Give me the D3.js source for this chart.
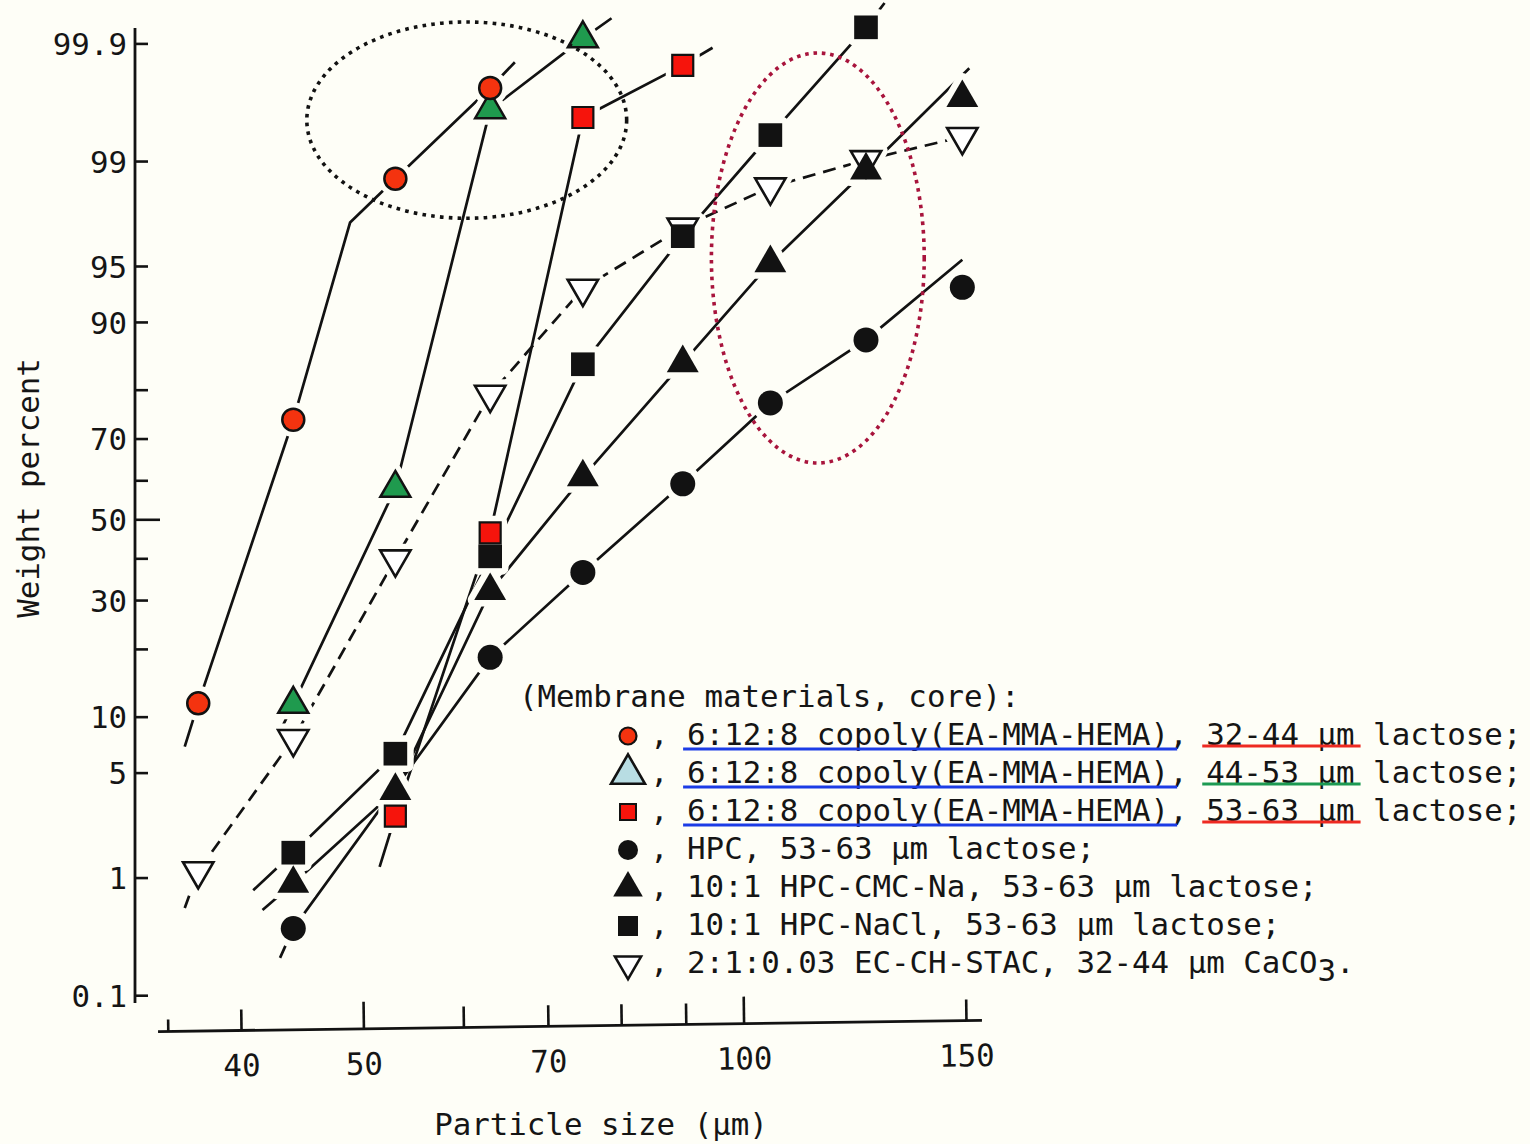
<!DOCTYPE html>
<html><head><meta charset="utf-8">
<script src="https://cdn.jsdelivr.net/npm/d3@7"></script>
<style>
html,body{margin:0;padding:0;background:#fefef7;}
svg{display:block;}
text{font-family:'DejaVu Sans Mono',monospace;font-size:30.8px;fill:#151515;}
</style></head><body>
<svg id="chart" width="1530" height="1144"></svg>
<script>
// ---------------- DATA (particle size in µm, cumulative weight percent) ----------------
// 6:12:8 copoly(EA-MMA-HEMA), 32-44 µm lactose  (red circles)
const copolyA_size = [37, 44, 53, 63];
const copolyA_pct  = [11.6, 74.1, 98.65, 99.745];
const copolyA_fitSize = [36.1, 37, 44, 48.8, 53, 63, 65.9];
const copolyA_fitPct  = [7.0, 11.6, 74.1, 97.3, 98.65, 99.745, 99.85];

// 6:12:8 copoly(EA-MMA-HEMA), 44-53 µm lactose  (green triangles)
const copolyB_size = [44, 53, 63, 74.6];
const copolyB_pct  = [11.5, 58.0, 99.61, 99.91];
const copolyB_fitSize = [42.9, 44, 53, 63, 74.6, 78.6];
const copolyB_fitPct  = [8.3, 11.5, 58.0, 99.61, 99.91, 99.943];

// 6:12:8 copoly(EA-MMA-HEMA), 53-63 µm lactose  (red squares)
const copolyC_size = [53, 63, 74.6, 89.5];
const copolyC_pct  = [2.7, 46.5, 99.546, 99.84];
const copolyC_fitSize = [51.5, 53, 63, 74.6, 89.5, 94.5];
const copolyC_fitPct  = [1.2, 2.7, 46.5, 99.546, 99.84, 99.89];

// HPC, 53-63 µm lactose  (black circles)
const hpc_size = [44, 63, 74.6, 89.5, 105, 125, 149];
const hpc_pct  = [0.394, 18.5, 36.5, 59.1, 77.5, 87.8, 93.4];
const hpc_fitSize = [42.95, 44, 63, 74.6, 89.5, 105, 125, 149];
const hpc_fitPct  = [0.22, 0.394, 18.5, 36.5, 59.1, 77.5, 87.8, 95.4];

// 10:1 HPC-CMC-Na, 53-63 µm lactose  (black triangles)
const cmc_size = [44, 53, 63, 74.6, 89.5, 105, 125, 149];
const cmc_pct  = [0.9, 3.9, 32.1, 60.8, 84.5, 95.2, 98.83, 99.69];
const cmc_fitSize = [41.6, 44, 53, 63, 74.6, 89.5, 105, 125, 150.9];
const cmc_fitPct  = [0.56, 0.9, 3.9, 32.1, 60.8, 84.5, 95.2, 98.83, 99.83];

// 10:1 HPC-NaCl, 53-63 µm lactose  (black squares)
const nacl_size = [44, 53, 63, 74.6, 89.5, 105, 125];
const nacl_pct  = [1.52, 6.4, 40.5, 84.3, 96.7, 99.37, 99.93];
const nacl_fitSize = [40.9, 44, 53, 63, 74.6, 89.5, 105, 125, 129.3];
const nacl_fitPct  = [0.80, 1.52, 6.4, 40.5, 84.3, 96.7, 99.37, 99.93, 99.96];

// 2:1:0.03 EC-CH-STAC, 32-44 µm CaCO3  (open inverted triangles, dashed)
const stac_size = [37, 44, 53, 63, 74.6, 89.5, 105, 125, 149];
const stac_pct  = [1.12, 7.7, 39.8, 79.1, 93.3, 97.1, 98.45, 99.02, 99.35];
const stac_fitSize = [36.1, 37, 44, 53, 63, 74.6, 89.5, 105, 125, 149, 152.3];
const stac_fitPct  = [0.58, 1.12, 7.7, 39.8, 79.1, 93.3, 97.1, 98.45, 99.02, 99.35, 99.506];

// axis ticks
const xTicks = [35, 40, 50, 60, 70, 80, 90, 100, 150];
const xTickLabels = ["", "40", "50", "", "70", "", "", "100", "150"];
const yTicks = [0.1, 1, 5, 10, 20, 30, 40, 50, 60, 70, 80, 90, 95, 99, 99.9];
const yTickLabels = ["0.1", "1", "5", "10", "", "30", "", "50", "", "70", "", "90", "95", "99", "99.9"];

// annotation rings (bounding boxes in data units)
const blackRingSize = [45.1, 80.8];
const blackRingPct  = [97.47, 99.938];
const redRingSize = [94.3, 139];
const redRingPct  = [64.27, 99.877];

// legend
const legendTitle = "(Membrane materials, core):";
const legendLabels = [
  "6:12:8 copoly(EA-MMA-HEMA), 32-44 µm lactose;",
  "6:12:8 copoly(EA-MMA-HEMA), 44-53 µm lactose;",
  "6:12:8 copoly(EA-MMA-HEMA), 53-63 µm lactose;",
  "HPC, 53-63 µm lactose;",
  "10:1 HPC-CMC-Na, 53-63 µm lactose;",
  "10:1 HPC-NaCl, 53-63 µm lactose;",
  "2:1:0.03 EC-CH-STAC, 32-44 µm CaCO"
];
const xTitle = "Particle size (µm)";
const yTitle = "Weight percent";

// ---------------- helpers ----------------
function probit(p){
  const a=[-3.969683028665376e+01,2.209460984245205e+02,-2.759285104469687e+02,1.383577518672690e+02,-3.066479806614716e+01,2.506628277459239e+00];
  const b=[-5.447609879822406e+01,1.615858368580409e+02,-1.556989798598866e+02,6.680131188771972e+01,-1.328068155288572e+01];
  const c=[-7.784894002430293e-03,-3.223964580411365e-01,-2.400758277161838e+00,-2.549732539343734e+00,4.374664141464968e+00,2.938163982698783e+00];
  const d=[7.784695709041462e-03,3.224671290700398e-01,2.445134137142996e+00,3.754408661907416e+00];
  const pl=0.02425, ph=1-pl; let q,r;
  if(p<pl){q=Math.sqrt(-2*Math.log(p));return (((((c[0]*q+c[1])*q+c[2])*q+c[3])*q+c[4])*q+c[5])/((((d[0]*q+d[1])*q+d[2])*q+d[3])*q+1);}
  if(p<=ph){q=p-0.5;r=q*q;return (((((a[0]*r+a[1])*r+a[2])*r+a[3])*r+a[4])*r+a[5])*q/(((((b[0]*r+b[1])*r+b[2])*r+b[3])*r+b[4])*r+1);}
  q=Math.sqrt(-2*Math.log(1-p));return -(((((c[0]*q+c[1])*q+c[2])*q+c[3])*q+c[4])*q+c[5])/((((d[0]*q+d[1])*q+d[2])*q+d[3])*q+1);
}

const BG = "#fefef7", INK = "#121212";
const svg = d3.select("#chart");
svg.append("rect").attr("width",1530).attr("height",1144).attr("fill",BG);

const x = d3.scaleLog().domain([40,150]).range([241,966]);
const yZ = d3.scaleLinear().domain([probit(0.001), probit(0.999)]).range([995.2, 43.4]);
const y = p => yZ(probit(p/100));

// ---------------- series config ----------------
const series = [
  {px:stac_size, pp:stac_pct, lx:stac_fitSize, lp:stac_fitPct, type:d3.symbolTriangle, size:400, rot:180, fill:"#ffffff", stroke:INK, sw:2.6, dash:"13 8"},
  {px:hpc_size, pp:hpc_pct, lx:hpc_fitSize, lp:hpc_fitPct, type:d3.symbolCircle, size:491, rot:0, fill:INK, stroke:"none", sw:0},
  {px:cmc_size, pp:cmc_pct, lx:cmc_fitSize, lp:cmc_fitPct, type:d3.symbolTriangle, size:440, rot:0, fill:INK, stroke:"none", sw:0},
  {px:nacl_size, pp:nacl_pct, lx:nacl_fitSize, lp:nacl_fitPct, type:d3.symbolSquare, size:560, rot:0, fill:INK, stroke:"none", sw:0},
  {px:copolyC_size, pp:copolyC_pct, lx:copolyC_fitSize, lp:copolyC_fitPct, type:d3.symbolSquare, size:441, rot:0, fill:"#f6140c", stroke:INK, sw:2.2},
  {px:copolyB_size, pp:copolyB_pct, lx:copolyB_fitSize, lp:copolyB_fitPct, type:d3.symbolTriangle, size:390, rot:0, fill:"#1f9a4e", stroke:INK, sw:2.5},
  {px:copolyA_size, pp:copolyA_pct, lx:copolyA_fitSize, lp:copolyA_fitPct, type:d3.symbolCircle, size:380, rot:0, fill:"#f4330f", stroke:INK, sw:2.5}
];

// ---------------- axes ----------------
const gy = svg.append("g").attr("transform","translate(135,0)").style("color",INK);
gy.call(d3.axisLeft(yZ).tickValues(yTicks.map(p=>probit(p/100)))
  .tickSizeInner(-13).tickSizeOuter(0).tickPadding(8)
  .tickFormat((d,i)=>yTickLabels[i]));
gy.attr("font-size",null).attr("font-family",null);
gy.select(".domain").remove();
gy.selectAll(".tick line").attr("stroke-width",2.6).attr("x2",(d,i)=>yTicks[i]===50?25:13);
gy.selectAll(".tick text").attr("dy","0.36em");
gy.append("line").attr("x1",0).attr("x2",0).attr("y1",28).attr("y2",1003).attr("stroke",INK).attr("stroke-width",2.8);

const gx = svg.append("g").attr("transform","rotate(-0.78,570,1026) translate(0,1026)").style("color",INK);
gx.call(d3.axisBottom(x).tickValues(xTicks).tickSizeInner(-21).tickSizeOuter(0).tickPadding(24)
  .tickFormat((d,i)=>xTickLabels[i]));
gx.attr("font-size",null).attr("font-family",null);
gx.select(".domain").remove();
gx.selectAll(".tick line").attr("stroke-width",2.6)
  .attr("y2",(d,i)=> xTicks[i]===35 ? -12 : (xTicks[i]===50||xTicks[i]===100) ? -27 : -21);
gx.append("line").attr("x1",158).attr("x2",982).attr("y1",0).attr("y2",0).attr("stroke",INK).attr("stroke-width",2.8);

svg.append("text").attr("transform","translate(39,488) rotate(-90)").attr("text-anchor","middle").text(yTitle);
svg.append("text").attr("x",601).attr("y",1135).attr("text-anchor","middle").text(xTitle);

// ---------------- lines ----------------
const lineGen = d3.line().x(d=>x(d[0])).y(d=>y(d[1]));
svg.append("g").selectAll("path").data(series).join("path")
  .attr("d", s=>lineGen(d3.zip(s.lx, s.lp)))
  .attr("fill","none").attr("stroke",INK).attr("stroke-width",2.7)
  .attr("stroke-dasharray", s=>s.dash||null);

// ---------------- halos (gaps around markers) ----------------
const pts = series.flatMap(s => d3.zip(s.px, s.pp).map(([vx,vp]) => ({s, vx, vp})));
const symPath = d => d3.symbol().type(d.s.type).size(d.s.size)();
const tf = d => `translate(${x(d.vx)},${y(d.vp)}) rotate(${d.s.rot})`;
svg.append("g").selectAll("path").data(pts).join("path")
  .attr("d", symPath).attr("transform", tf)
  .attr("fill",BG).attr("stroke",BG).attr("stroke-width",13).attr("stroke-linejoin","round");

// ---------------- markers ----------------
svg.append("g").selectAll("path").data(pts).join("path")
  .attr("d", symPath).attr("transform", tf)
  .attr("fill", d=>d.s.fill).attr("stroke", d=>d.s.stroke).attr("stroke-width", d=>d.s.sw)
  .attr("stroke-linejoin","miter");

// ---------------- annotation rings ----------------
function ring(sz, pc, color, dash){
  const x0=x(sz[0]), x1=x(sz[1]), y0=y(pc[0]), y1=y(pc[1]);
  svg.append("ellipse").attr("cx",(x0+x1)/2).attr("cy",(y0+y1)/2)
    .attr("rx",Math.abs(x1-x0)/2).attr("ry",Math.abs(y1-y0)/2)
    .attr("fill","none").attr("stroke",color).attr("stroke-width",3.6).attr("stroke-dasharray",dash);
}
ring(blackRingSize, blackRingPct, INK, "3.6 5.2");
ring(redRingSize, redRingPct, "#a8143c", "3.6 4.8");

// ---------------- legend ----------------
const LX = 650, LB = 745, LS = 38;
svg.append("text").attr("x",519).attr("y",707).text(legendTitle);
const legendMarks = [
  {type:d3.symbolCircle, size:227, rot:0, fill:"#f4330f", stroke:INK, sw:2.2},
  {type:d3.symbolTriangle, size:500, rot:0, fill:"#b8dde3", stroke:INK, sw:2.6},
  {type:d3.symbolSquare, size:256, rot:0, fill:"#f6140c", stroke:INK, sw:2},
  {type:d3.symbolCircle, size:314, rot:0, fill:INK, stroke:"none", sw:0},
  {type:d3.symbolTriangle, size:380, rot:0, fill:INK, stroke:"none", sw:0},
  {type:d3.symbolSquare, size:400, rot:0, fill:INK, stroke:"none", sw:0},
  {type:d3.symbolTriangle, size:300, rot:180, fill:"#ffffff", stroke:INK, sw:2.5}
];
const underlineColors = [["#1c3ce6","#ee2a22"],["#1c3ce6","#1d9a52"],["#1c3ce6","#ee2a22"]];
legendLabels.forEach((lab,i)=>{
  const by = LB + i*LS;
  const m = legendMarks[i];
  svg.append("path").attr("d", d3.symbol().type(m.type).size(m.size)())
    .attr("transform",`translate(628,${by-9}) rotate(${m.rot})`)
    .attr("fill",m.fill).attr("stroke",m.stroke).attr("stroke-width",m.sw);
  const t = svg.append("text").attr("x",LX).attr("y",by).text(", "+lab);
  if(i===legendLabels.length-1){
    t.append("tspan").attr("dy","0.26em").text("3");
    t.append("tspan").attr("dy","-0.26em").text(".");
  }
  if(i<3){
    const node = t.node();
    const s0 = LX + node.getSubStringLength(0,2);
    const matEnd = lab.indexOf(",");
    const e0 = LX + node.getSubStringLength(0,2+matEnd);
    const sizeStart = matEnd+2, sizeEnd = lab.indexOf("µm")+2;
    const s1 = LX + node.getSubStringLength(0,2+sizeStart);
    const e1 = LX + node.getSubStringLength(0,2+sizeEnd);
    svg.append("line").attr("x1",s0-4).attr("x2",e0+8).attr("y1",by+4).attr("y2",by+4)
      .attr("stroke",underlineColors[i][0]).attr("stroke-width",3);
    svg.append("line").attr("x1",s1-4).attr("x2",e1+6).attr("y1",by+1).attr("y2",by+1)
      .attr("stroke",underlineColors[i][1]).attr("stroke-width",3);
  }
});
</script>
</body></html>
